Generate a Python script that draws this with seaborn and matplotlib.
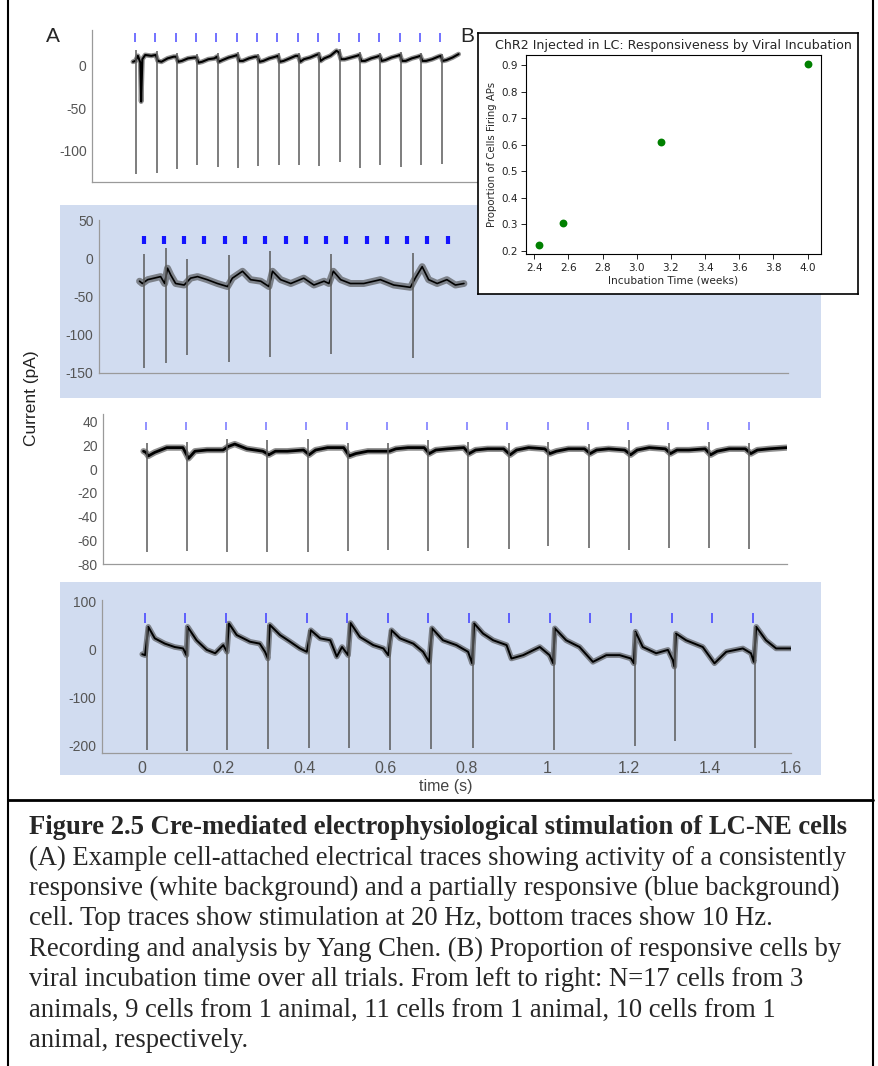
import matplotlib
matplotlib.use('Agg')
import matplotlib.pyplot as plt
import matplotlib.patheffects as pe
from matplotlib.lines import Line2D
import seaborn as sns

# ---- panel A, trace 1: 20 Hz, consistently responsive (white) ----
a_base_t = [0.000, 0.006, 0.012, 0.018, 0.020, 0.023, 0.030, 0.045, 0.056,
            0.061, 0.070, 0.085, 0.100, 0.106,
            0.111, 0.120, 0.135, 0.150, 0.156,
            0.161, 0.170, 0.185, 0.200, 0.206,
            0.211, 0.220, 0.235, 0.250, 0.256,
            0.261, 0.270, 0.285, 0.300, 0.306,
            0.311, 0.320, 0.335, 0.350, 0.356,
            0.361, 0.370, 0.385, 0.400, 0.406,
            0.411, 0.420, 0.435, 0.450, 0.456,
            0.461, 0.470, 0.485, 0.500, 0.506,
            0.511, 0.520, 0.535, 0.550, 0.556,
            0.561, 0.570, 0.585, 0.600, 0.606,
            0.611, 0.620, 0.635, 0.650, 0.656,
            0.661, 0.670, 0.685, 0.700, 0.706,
            0.711, 0.720, 0.735, 0.750, 0.756,
            0.761, 0.770, 0.785, 0.800]
a_base_v = [5, 6, 12, 4, -42, 8, 13, 12, 13,
            6, 5, 9, 11, 11,
            5, 6, 9, 10, 10,
            4, 5, 8, 9, 11,
            5, 7, 10, 12, 13,
            6, 6, 9, 11, 11,
            5, 6, 9, 11, 12,
            5, 6, 9, 12, 12,
            5, 8, 10, 13, 14,
            6, 9, 12, 18, 16,
            8, 8, 10, 12, 13,
            6, 6, 9, 11, 12,
            6, 7, 10, 12, 13,
            6, 6, 9, 11, 12,
            6, 6, 8, 11, 12,
            6, 7, 10, 14]
a_spike_t = [0.008, 0.058, 0.108, 0.158, 0.208, 0.258, 0.308, 0.358,
             0.408, 0.458, 0.508, 0.558, 0.608, 0.658, 0.708, 0.758]
a_spike_hi = [19, 18, 15, 14, 15, 16, 14, 15, 15, 16, 20, 17, 15, 16, 15, 14]
a_spike_lo = [-127, -126, -122, -117, -119, -121, -118, -117,
              -117, -118, -113, -120, -117, -119, -117, -116]
a_stim = [0.005, 0.055, 0.105, 0.155, 0.205, 0.255, 0.305, 0.355,
          0.405, 0.455, 0.505, 0.555, 0.605, 0.655, 0.705, 0.755]

# ---- trace 2: 20 Hz, partially responsive (blue) ----
b_base_t = [0.000, 0.007, 0.020, 0.036, 0.052, 0.062, 0.069, 0.077, 0.089, 0.110,
            0.126, 0.143, 0.167, 0.192, 0.217, 0.229, 0.254, 0.274, 0.299, 0.319,
            0.328, 0.348, 0.373, 0.405, 0.430, 0.455, 0.467, 0.478, 0.496, 0.520,
            0.553, 0.594, 0.627, 0.668, 0.680, 0.697, 0.713, 0.734, 0.758, 0.779, 0.800]
b_base_v = [-30, -33, -28, -26, -24, -33, -13, -22, -33, -35,
            -26, -24, -28, -33, -37, -26, -17, -28, -30, -37,
            -17, -28, -33, -26, -35, -30, -33, -17, -28, -33,
            -33, -28, -35, -38, -26, -11, -28, -33, -28, -35, -33]
b_spike_t = [0.011, 0.065, 0.118, 0.221, 0.322, 0.471, 0.674]
b_spike_hi = [6, 13, -1, 4, 9, 5, 7]
b_spike_lo = [-143, -137, -127, -135, -129, -125, -130]
b_stim = [0.010, 0.060, 0.110, 0.160, 0.210, 0.260, 0.310, 0.360,
          0.410, 0.460, 0.510, 0.560, 0.610, 0.660, 0.710, 0.760]

# ---- trace 3: 10 Hz, consistently responsive (white) ----
c_base_t = [0.000, 0.006,
            0.012, 0.028, 0.058, 0.098, 0.112, 0.128, 0.158, 0.198,
            0.211, 0.227, 0.257, 0.297, 0.312, 0.328, 0.358, 0.398,
            0.412, 0.428, 0.458, 0.498, 0.512, 0.528, 0.558, 0.598,
            0.612, 0.628, 0.658, 0.698, 0.711, 0.727, 0.757, 0.797,
            0.810, 0.826, 0.856, 0.896, 0.912, 0.928, 0.958, 0.998,
            1.011, 1.027, 1.057, 1.097, 1.111, 1.127, 1.157, 1.197,
            1.212, 1.228, 1.258, 1.298, 1.311, 1.327, 1.357, 1.397,
            1.411, 1.427, 1.457, 1.497, 1.511, 1.527, 1.557, 1.600]
c_base_v = [15, 14,
            11, 14, 18, 18, 9, 15, 16, 16,
            19, 21, 17, 15, 12, 15, 15, 16,
            12, 16, 18, 18, 11, 13, 15, 15,
            15, 17, 18, 18, 13, 16, 17, 18,
            13, 16, 17, 17, 12, 16, 18, 17,
            13, 15, 17, 17, 13, 16, 17, 16,
            12, 16, 18, 17, 13, 16, 16, 17,
            12, 15, 17, 17, 13, 16, 17, 18]
c_spike_t = [0.008, 0.108, 0.207, 0.308, 0.408, 0.508, 0.608, 0.707,
             0.806, 0.908, 1.007, 1.107, 1.208, 1.307, 1.407, 1.507]
c_spike_hi = [22, 23, 25, 24, 25, 22, 22, 24, 23, 22, 23, 21, 24, 22, 23, 22]
c_spike_lo = [-70, -69, -70, -70, -70, -69, -68, -69,
              -66, -67, -65, -66, -68, -66, -66, -67]
c_stim = [0.005, 0.105, 0.205, 0.305, 0.405, 0.505, 0.605, 0.705,
          0.805, 0.905, 1.005, 1.105, 1.205, 1.305, 1.405, 1.505]

# ---- trace 4: 10 Hz, partially responsive (blue) ----
d_base_t = [0.000, 0.007, 0.015, 0.031, 0.056, 0.080, 0.101, 0.109,
            0.112, 0.134, 0.159, 0.180, 0.200, 0.209,
            0.214, 0.233, 0.266, 0.290, 0.303, 0.310,
            0.315, 0.340, 0.365, 0.389, 0.406,
            0.416, 0.439, 0.464, 0.480, 0.493, 0.508,
            0.514, 0.537, 0.570, 0.595, 0.607,
            0.615, 0.636, 0.669, 0.693, 0.708,
            0.715, 0.742, 0.775, 0.804, 0.814,
            0.819, 0.841, 0.866, 0.899, 0.911, 0.940, 0.981, 1.005, 1.014,
            1.018, 1.046, 1.079, 1.112, 1.145, 1.178, 1.206, 1.213,
            1.217, 1.235, 1.268, 1.297, 1.309, 1.313,
            1.317, 1.342, 1.383, 1.412, 1.441, 1.482, 1.502, 1.509,
            1.515, 1.539, 1.564, 1.600]
d_base_v = [-10, -12, 47, 23, 12, 5, 2, -12,
            47, 19, -1, -8, 9, -5,
            54, 30, 16, 12, -5, -19,
            51, 30, 16, 2, -5,
            40, 23, 19, -15, 5, -12,
            55, 26, 9, 2, -12,
            40, 23, 12, -5, -26,
            44, 19, 9, -5, -29,
            54, 33, 19, 9, -19, -12, 5, -12, -29,
            44, 19, 5, -26, -12, -12, -19, -29,
            37, 5, -8, -1, -22, -36,
            33, 19, 5, -29, -5, 2, -8, -26,
            47, 19, 2, 2]
d_spike_t = [0.013, 0.110, 0.210, 0.311, 0.412, 0.511, 0.612, 0.712,
             0.816, 1.015, 1.215, 1.315, 1.512]
d_spike_hi = [47, 47, 54, 51, 40, 55, 40, 44, 54, 44, 37, 33, 47]
d_spike_lo = [-210, -212, -210, -208, -206, -205, -210, -208,
              -205, -210, -201, -191, -205]
d_stim = [0.006, 0.106, 0.206, 0.306, 0.406, 0.506, 0.606, 0.706,
          0.806, 0.906, 1.006, 1.106, 1.206, 1.306, 1.406, 1.506]

# ---- panel B ----
incubation_weeks = [2.43, 2.57, 3.14, 4.0]
prop_firing = [0.22, 0.305, 0.61, 0.905]

time_ticks = [0, 0.2, 0.4, 0.6, 0.8, 1.0, 1.2, 1.4, 1.6]
time_labels = ['0', '0.2', '0.4', '0.6', '0.8', '1', '1.2', '1.4', '1.6']

caption = [
    "(A) Example cell-attached electrical traces showing activity of a consistently",
    "responsive (white background) and a partially responsive (blue background)",
    "cell. Top traces show stimulation at 20 Hz, bottom traces show 10 Hz.",
    "Recording and analysis by Yang Chen. (B) Proportion of responsive cells by",
    "viral incubation time over all trials. From left to right: N=17 cells from 3",
    "animals, 9 cells from 1 animal, 11 cells from 1 animal, 10 cells from 1",
    "animal, respectively.",
]

sns.set_theme(style='white')
plt.rcParams['font.family'] = ['DejaVu Sans']

W, H = 879, 1066
fig = plt.figure(figsize=(W / 100, H / 100), dpi=100)
fig.patch.set_facecolor('white')


def px(l, t, r, b):
    return [l / W, 1 - b / H, (r - l) / W, (b - t) / H]


BLUE_BG = '#d1dcf0'
AX_GREY = '#9a9a9a'
LBL_GREY = '#555555'
SANS = 'Liberation Sans'

# blue backgrounds behind the partially responsive cell
for (l, t, r, b) in [(60, 205, 821, 398), (60, 582, 821, 775)]:
    bg = fig.add_axes(px(l, t, r, b))
    bg.set_zorder(0)
    bg.set_facecolor(BLUE_BG)
    bg.set_xticks([])
    bg.set_yticks([])
    for s in bg.spines.values():
        s.set_visible(False)


def trace_panel(rect, ylim, yticks, bt, bv, st, shi, slo, stim, stim_span,
                stim_color, stim_lw, core, halo, show_x=False):
    ax = fig.add_axes(px(*rect))
    ax.set_zorder(1)
    ax.set_facecolor('none')
    sns.lineplot(x=bt, y=bv, ax=ax, color='black', lw=core, estimator=None,
                 sort=False,
                 path_effects=[pe.Stroke(linewidth=halo, foreground='#444444', alpha=0.6),
                               pe.Normal()])
    ax.vlines(st, slo, shi, color='#5a5a5a', lw=1.1)
    ax.vlines(stim, stim_span[0], stim_span[1], color=stim_color, lw=stim_lw)
    ax.set_xlim(-0.1, 1.6)
    ax.set_ylim(*ylim)
    ax.set_yticks(yticks)
    ax.set_yticklabels([str(v) for v in yticks], fontfamily=SANS, fontsize=10,
                       color=LBL_GREY)
    ax.set_xticks(time_ticks)
    if show_x:
        ax.set_xticklabels(time_labels, fontfamily=SANS, fontsize=11.5, color=LBL_GREY)
    else:
        ax.set_xticklabels([])
    for s in ['top', 'right']:
        ax.spines[s].set_visible(False)
    for s in ['left', 'bottom']:
        ax.spines[s].set_color(AX_GREY)
        ax.spines[s].set_linewidth(0.9)
    ax.tick_params(direction='in', length=4, width=0.9, color=AX_GREY, pad=4)
    ax.tick_params(axis='x', pad=6)
    ax.set_xlabel('')
    ax.set_ylabel('')
    ax.grid(False)
    return ax


trace_panel((92.3, 30, 784.2, 182), (-137, 42.5), [-100, -50, 0],
            a_base_t, a_base_v, a_spike_t, a_spike_hi, a_spike_lo,
            a_stim, (28, 38.5), '#5a5aff', 1.2, 1.5, 3.5)
trace_panel((99, 220, 788.3, 373), (-150, 50), [-150, -100, -50, 0, 50],
            b_base_t, b_base_v, b_spike_t, b_spike_hi, b_spike_lo,
            b_stim, (18.5, 29), '#1414ff', 3.0, 1.2, 5.0)
trace_panel((103.3, 414.3, 786.7, 564.3), (-80, 46), [-80, -60, -40, -20, 0, 20, 40],
            c_base_t, c_base_v, c_spike_t, c_spike_hi, c_spike_lo,
            c_stim, (32.5, 39.6), '#7f7fff', 1.2, 2.0, 4.5)
trace_panel((101.7, 600, 790.7, 753), (-216, 103), [-200, -100, 0, 100],
            d_base_t, d_base_v, d_spike_t, d_spike_hi, d_spike_lo,
            d_stim, (55, 75), '#4a4aff', 1.2, 1.4, 4.0, show_x=True)

# panel B frame and scatter
frame = fig.add_axes(px(478, 33, 858, 294))
frame.set_zorder(5)
frame.set_facecolor('white')
frame.set_xticks([])
frame.set_yticks([])
for s in frame.spines.values():
    s.set_visible(True)
    s.set_color('black')
    s.set_linewidth(1.2)

axb = fig.add_axes(px(526, 55, 821, 254.3))
axb.set_zorder(6)
axb.set_facecolor('white')
sns.scatterplot(x=incubation_weeks, y=prop_firing, ax=axb, color='green', s=32,
                linewidth=0)
axb.set_title('ChR2 Injected in LC: Responsiveness by Viral Incubation',
              fontsize=9.1, pad=4)
axb.set_xlabel('Incubation Time (weeks)', fontsize=7.6, labelpad=2)
axb.set_ylabel('Proportion of Cells Firing APs', fontsize=7.3, labelpad=3)
axb.set_xticks([2.4, 2.6, 2.8, 3.0, 3.2, 3.4, 3.6, 3.8, 4.0])
axb.set_yticks([0.2, 0.3, 0.4, 0.5, 0.6, 0.7, 0.8, 0.9])
axb.tick_params(labelsize=7.5, length=3.5, width=0.7, pad=2.5, colors='#222222',
                bottom=True, left=True)
for s in axb.spines.values():
    s.set_color('black')
    s.set_linewidth(0.8)
axb.grid(False)

# labels
fig.text(53 / W, 1 - 36 / H, 'A', fontfamily=SANS, fontsize=15, ha='center', va='center')
fig.text(467 / W, 1 - 36 / H, 'B', fontfamily=SANS, fontsize=15, ha='center', va='center')
fig.text(31.7 / W, 1 - 398.5 / H, 'Current (pA)', fontfamily=SANS, fontsize=12.5,
         rotation=90, ha='center', va='center', color='#222222')
fig.text(446 / W, 1 - 786 / H, 'time (s)', fontfamily=SANS, fontsize=11.5,
         ha='center', va='center', color='#444444')

# outer frame lines
fig.add_artist(Line2D([8 / W, 8 / W], [0, 1], color='black', lw=1.5,
                      transform=fig.transFigure))
fig.add_artist(Line2D([873 / W, 873 / W], [0, 1], color='black', lw=1.5,
                      transform=fig.transFigure))
fig.add_artist(Line2D([8 / W, 873 / W], [1 - 800 / H, 1 - 800 / H], color='black',
                      lw=2, transform=fig.transFigure))

# caption
fig.text(29 / W, 1 - 828 / H,
         'Figure 2.5 Cre-mediated electrophysiological stimulation of LC-NE cells',
         fontfamily='Liberation Serif', fontweight='bold', fontsize=19.2,
         va='center', ha='left')
for i, line in enumerate(caption):
    fig.text(29 / W, 1 - (858 + 30.4 * i) / H, line, fontfamily='Liberation Serif',
             fontsize=19.2, va='center', ha='left')

fig.savefig('out.png', dpi=100)
